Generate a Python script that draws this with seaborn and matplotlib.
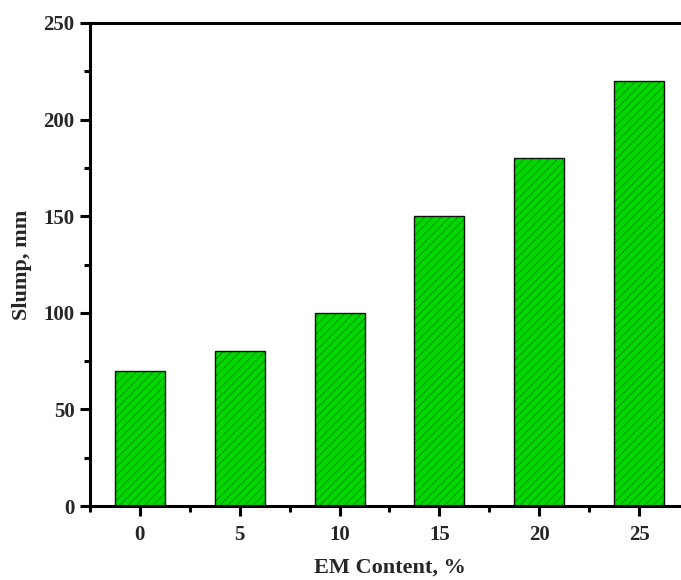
import numpy as np
import pandas as pd
import matplotlib
matplotlib.use("Agg")
import matplotlib.pyplot as plt
from matplotlib.ticker import MultipleLocator, FixedLocator
import seaborn as sns

em_content = ["0", "5", "10", "15", "20", "25"]
slump_mm = [70, 80, 100, 150, 180, 220]

df = pd.DataFrame({"EM Content, %": em_content, "Slump, mm": slump_mm})

sns.set_style("ticks")
plt.rcParams["font.family"] = ["Liberation Serif", "DejaVu Serif"]
plt.rcParams["font.weight"] = "bold"
plt.rcParams["hatch.linewidth"] = 0.7

fig = plt.figure(figsize=(6.81, 5.80), dpi=100)
ax = fig.add_axes([90 / 681, 74 / 580, 599 / 681, 483 / 580])

sns.barplot(data=df, x="EM Content, %", y="Slump, mm", order=em_content,
            color="#00D800", saturation=1, width=0.5, ax=ax,
            edgecolor="#009400", linewidth=0, hatch="////")
sns.barplot(data=df, x="EM Content, %", y="Slump, mm", order=em_content,
            width=0.5, ax=ax, facecolor="none", edgecolor="#101010",
            linewidth=1.0)

ax.set_xlim(-0.5, 5.5)
ax.set_ylim(0, 250)
ax.yaxis.set_major_locator(MultipleLocator(50))
ax.yaxis.set_minor_locator(MultipleLocator(25))
ax.xaxis.set_minor_locator(FixedLocator(np.arange(-0.5, 6, 1)))

for s in ["left", "bottom", "top", "right"]:
    ax.spines[s].set_linewidth(2.2)
    ax.spines[s].set_color("black")

ax.tick_params(axis="both", which="major", direction="out", length=7,
               width=2.2, labelsize=15, pad=4, color="black")
ax.tick_params(axis="x", which="major", pad=7)
ax.tick_params(axis="both", which="minor", direction="out", length=4,
               width=2.2, color="black")
for lab in ax.get_xticklabels() + ax.get_yticklabels():
    lab.set_fontweight("bold")

ax.set_xlabel("EM Content, %", fontsize=16, fontweight="bold", labelpad=9)
ax.set_ylabel("Slump, mm", fontsize=16, fontweight="bold", labelpad=8)

fig.savefig("out.png", dpi=100)
